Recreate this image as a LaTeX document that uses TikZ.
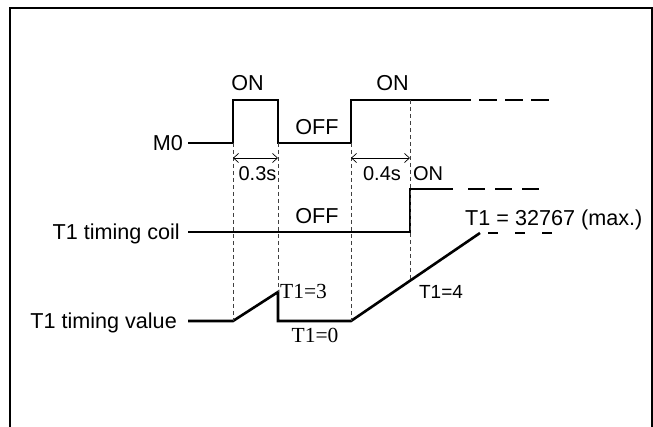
\documentclass[tikz,border=0pt]{standalone}
\usepackage{fontspec}
\setmainfont{Liberation Sans}
\newfontfamily\timesf{Liberation Serif}
\usetikzlibrary{arrows.meta}
\begin{document}
\begin{tikzpicture}[x=1pt,y=-1pt,
  sig/.style={line width=2.6pt, line join=miter},
  sigdash/.style={line width=2pt},
  guide/.style={line width=0.8pt, dash pattern=on 4pt off 3pt, black!75},
  dimline/.style={line width=0.7pt, {Straight Barb[length=5pt,width=9pt]}-{Straight Barb[length=5pt,width=9pt]}},
  lbl/.style={inner sep=0pt, text height=15pt, text depth=0pt, font=\fontsize{21.6}{24}\selectfont},
  slbl/.style={inner sep=0pt, text height=14pt, text depth=0pt, font=\fontsize{20}{24}\selectfont},
  tlbl/.style={inner sep=0pt, text height=14pt, text depth=0pt, font=\timesf\fontsize{21.5}{24}\selectfont}]
\useasboundingbox (0,0) rectangle (653,427);
% frame
\draw[line width=2.5pt] (10,445) -- (10,8) -- (652,8) -- (652,445);

% M0 signal
\coordinate (m0s) at (188,143);
\coordinate (m0a) at (233,143);
\coordinate (m0b) at (233,100);
\coordinate (m0c) at (278,100);
\coordinate (m0d) at (278,143);
\coordinate (m0e) at (351,143);
\coordinate (m0f) at (351,100);
\coordinate (m0g) at (410,100);
\coordinate (m0h) at (453,100);
\coordinate (m0z) at (550,100);
\draw[sig] (m0s) -- (m0a) -- (m0b) -- (m0c) -- (m0d) -- (m0e) -- (m0f) -- (m0h);
\draw[sigdash, dash pattern=on 18pt off 8pt] (m0h) -- (m0z);

% coil signal
\coordinate (cs) at (188,232);
\coordinate (ca) at (410,232);
\coordinate (cb) at (410,189);
\coordinate (cc) at (453,189);
\coordinate (cd) at (468,189);
\coordinate (cz) at (540,189);
\draw[sig] (cs) -- (ca) -- (cb) -- (cc);
\draw[sigdash, dash pattern=on 17pt off 10pt] (cd) -- (cz);

% value signal
\coordinate (vs) at (188,321);
\coordinate (va) at (233,321);
\coordinate (vb) at (278,292);
\coordinate (vc) at (278,321);
\coordinate (vd) at (351,321);
\coordinate (ve) at (480,233);
\coordinate (vf) at (488,233);
\coordinate (vz) at (553,233);
\coordinate (vm) at (410,280.8);
\draw[sig] (vs) -- (va) -- (vb) -- (vc) -- (vd) -- (ve);
\draw[sigdash, dash pattern=on 10pt off 17pt] (vf) -- (vz);

% guides
\draw[guide] (m0a) -- (va);
\draw[guide] (m0d) -- (vb);
\draw[guide] (m0e) -- (vd);
\draw[guide] (m0g) -- (vm);

% dimensions
\coordinate (d1a) at (233,158);
\coordinate (d1b) at (278,158);
\coordinate (d2a) at (351,158);
\coordinate (d2b) at (410,158);
\draw[dimline] (d1a) -- (d1b);
\draw[dimline] (d2a) -- (d2b);

% labels
\node[lbl, anchor=east] (lm0) at (183,143) {M0};
\node[lbl, anchor=east] (lcoil) at (180,232) {T1 timing coil};
\node[lbl, anchor=east] (lval) at (177,321) {T1 timing value};
\node[lbl] (on1) at (247.5,83) {ON};
\node[lbl] (on2) at (392.5,83) {ON};
\node[lbl] (off1) at (317,127) {OFF};
\node[slbl] (t03) at (257.5,174) {0.3s};
\node[slbl] (t04) at (382,174) {0.4s};
\node[slbl] (on3) at (428,174) {ON};
\node[lbl] (off2) at (317,216) {OFF};
\node[tlbl, anchor=west] (v3) at (280,292) {T1=3};
\node[tlbl] (v0) at (315,336) {T1=0};
\node[slbl, font=\fontsize{19}{22}\selectfont] (v4) at (441,292) {T1=4};
\node[lbl, anchor=west] (vmax) at (465,218) {T1 = 32767 (max.)};
\end{tikzpicture}
\end{document}
